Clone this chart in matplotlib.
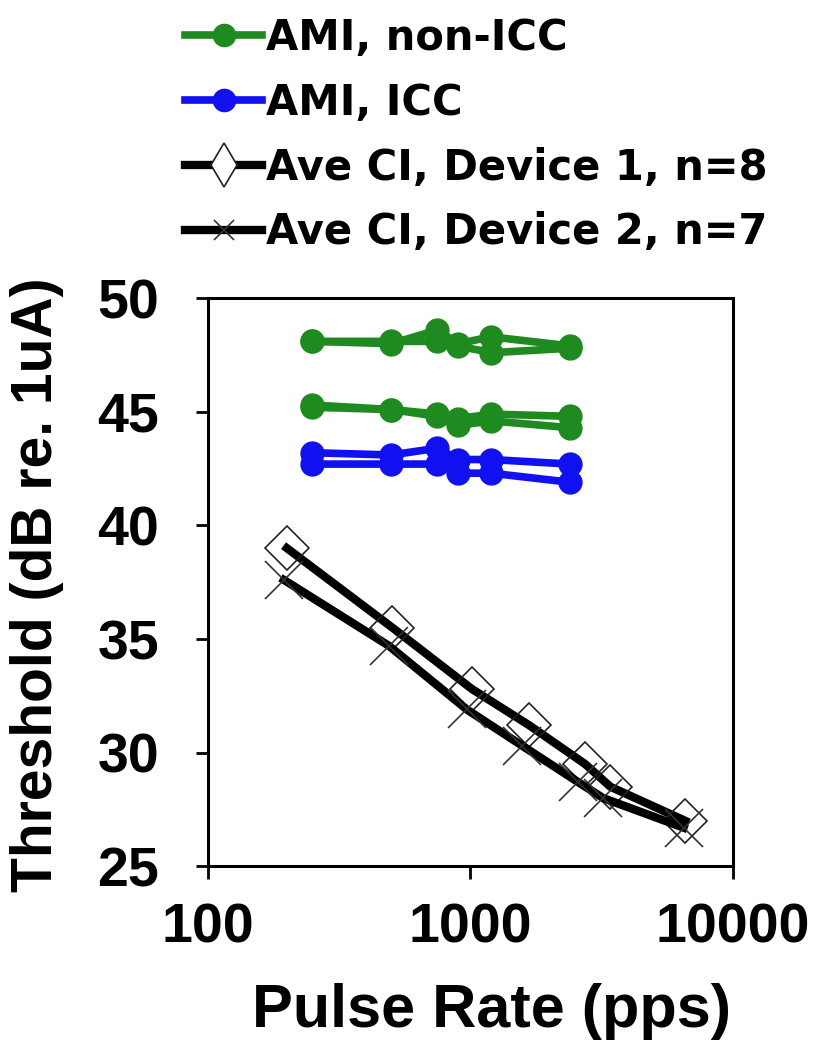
import matplotlib
matplotlib.use("Agg")
import matplotlib.pyplot as plt
from matplotlib.lines import Line2D
from matplotlib.ticker import FixedLocator, NullLocator

# AMI pulse rates (pps)
ami_rates = [250, 500, 750, 900, 1200, 2400]

# AMI, non-ICC (four threshold curves)
ami_non_icc = [
    [48.1, 48.0, 48.6, 48.0, 48.3, 47.9],
    [48.1, 48.1, 48.1, 47.9, 47.6, 47.8],
    [45.3, 45.1, 44.9, 44.7, 44.9, 44.8],
    [45.2, 45.1, 44.8, 44.4, 44.6, 44.3],
]

# AMI, ICC (two threshold curves)
ami_icc = [
    [43.2, 43.1, 43.4, 42.9, 42.9, 42.7],
    [42.7, 42.7, 42.7, 42.3, 42.3, 41.9],
]

# Average CI thresholds
dev1_rates = [200, 505, 1015, 1680, 2740, 3420, 6600]
dev1_thr = [39.0, 35.5, 32.8, 31.2, 29.5, 28.5, 27.0]
dev2_rates = [195, 490, 970, 1580, 2580, 3210, 6500]
dev2_thr = [37.6, 34.7, 31.9, 30.3, 28.7, 28.0, 26.7]

labels = ["AMI, non-ICC", "AMI, ICC", "Ave CI, Device 1, n=8", "Ave CI, Device 2, n=7"]

green = "#1f8a1f"
blue = "#1010f0"

fig = plt.figure(figsize=(8.25, 10.5), dpi=100)
ax = fig.add_axes([0.252, 0.175, 0.636, 0.541])

for ys in ami_non_icc:
    ax.plot(ami_rates, ys, color=green, lw=5.5, marker="o", ms=16.5)
for ys in ami_icc:
    ax.plot(ami_rates, ys, color=blue, lw=5.5, marker="o", ms=16.5)

ax.plot(dev1_rates, dev1_thr, color="black", lw=6, marker="D", ms=22,
        mfc="none", mec="#222222", mew=1.2)
ax.plot(dev2_rates, dev2_thr, color="black", lw=6, marker="x", ms=28,
        mec="#333333", mew=1.2)

ax.set_xscale("log")
ax.set_xlim(100, 10000)
ax.set_ylim(25, 50)
ax.xaxis.set_major_locator(FixedLocator([100, 1000, 10000]))
ax.xaxis.set_minor_locator(NullLocator())
ax.set_xticklabels(["100", "1000", "10000"])
ax.set_yticks([25, 30, 35, 40, 45, 50])

for lab in ax.get_xticklabels() + ax.get_yticklabels():
    lab.set_fontfamily("Liberation Sans")
    lab.set_fontweight("bold")
    lab.set_fontsize(40)
ax.tick_params(axis="both", direction="out", length=9, width=2, color="black")
ax.tick_params(axis="y", pad=26)
ax.tick_params(axis="x", pad=17)
for sp in ax.spines.values():
    sp.set_linewidth(2.2)

ax.set_xlabel("Pulse Rate (pps)", fontfamily="Liberation Sans", fontweight="bold",
              fontsize=44)
ax.set_ylabel("Threshold (dB re. 1uA)", fontfamily="Liberation Sans", fontweight="bold",
              fontsize=41)
ax.xaxis.set_label_coords(0.54, -0.205)
ax.yaxis.set_label_coords(-0.275, 0.495)

# legend proxies (smaller black markers, as in the original key)
handles = [
    Line2D([], [], color=green, lw=5.5, marker="o", ms=16),
    Line2D([], [], color=blue, lw=5.5, marker="o", ms=16),
    Line2D([], [], color="black", lw=6, marker="d", ms=22, mfc="white",
           mec="#222222", mew=1.2),
    Line2D([], [], color="black", lw=6, marker="x", ms=15, mec="#333333", mew=1.2),
]
fig.legend(handles, labels, loc="upper left", bbox_to_anchor=(0.2145, 0.992),
           frameon=False, prop=dict(family="DejaVu Sans", weight="bold", size=30),
           handlelength=1.85, handletextpad=0.08, labelspacing=0.55,
           borderaxespad=0, borderpad=0.2)

fig.savefig("out.png", dpi=100)
